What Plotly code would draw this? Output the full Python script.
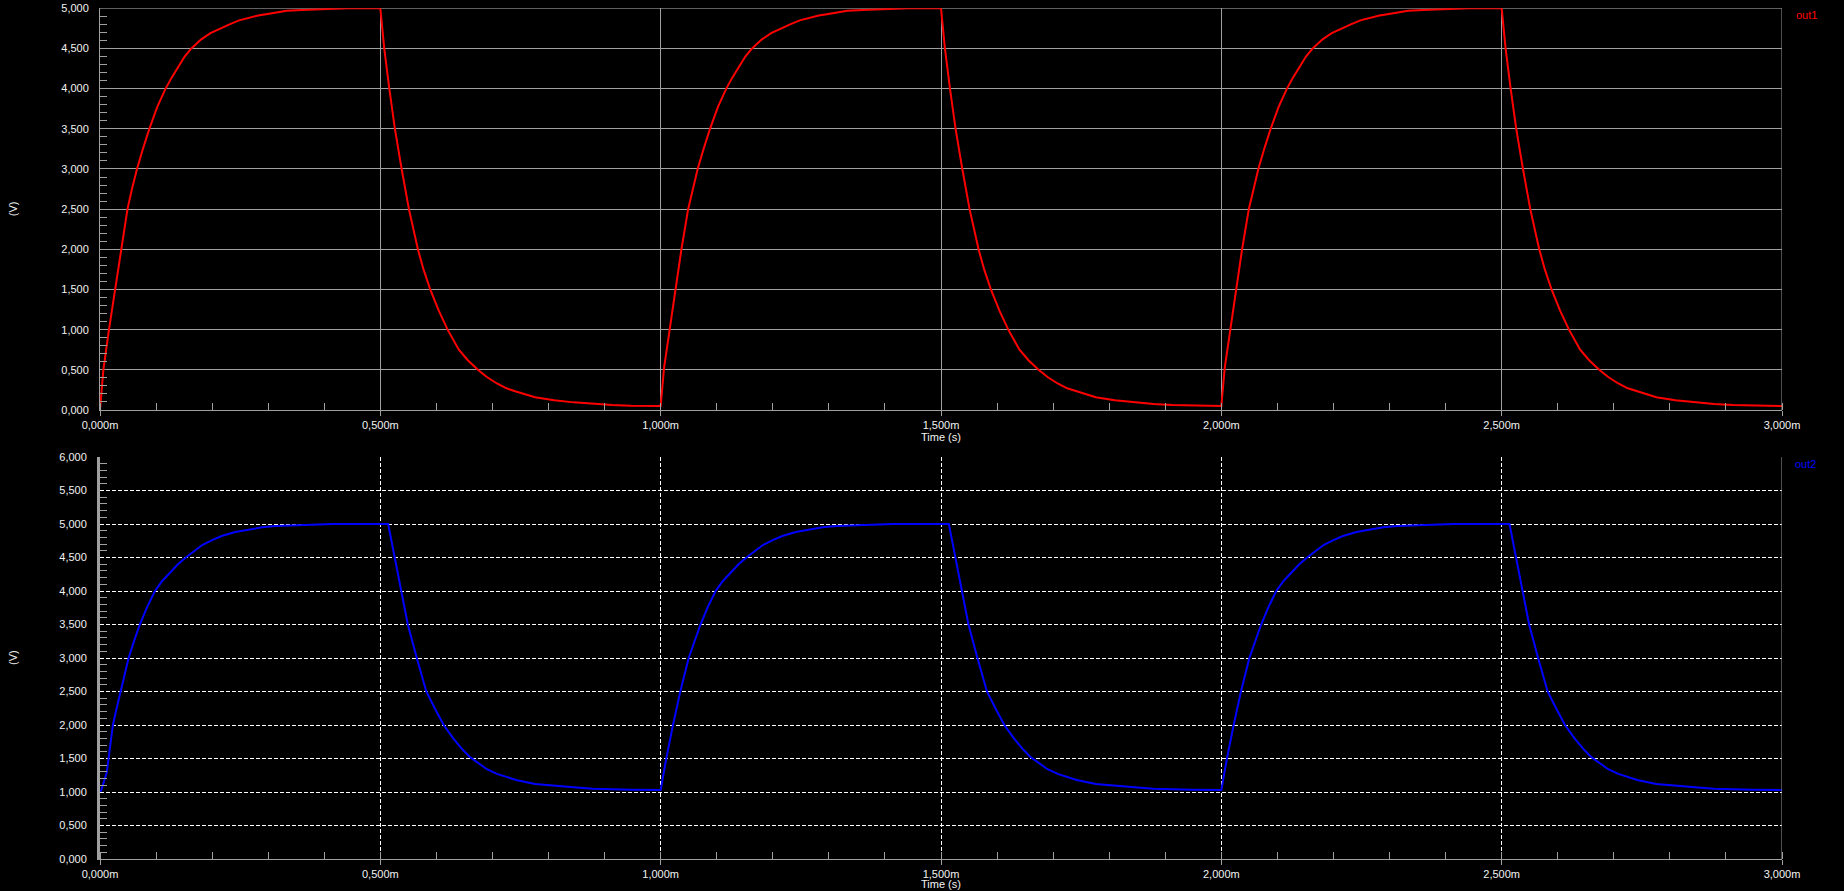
import plotly.graph_objects as go

# ---- data (time in ms, voltage in V) ----
out1_t = [
    0.000, 0.006, 0.016, 0.027, 0.037, 0.049, 0.057, 0.066, 0.077, 0.088, 0.102, 0.117,
    0.128, 0.140, 0.151, 0.163, 0.180, 0.197, 0.214, 0.231, 0.248, 0.265, 0.282, 0.299,
    0.333, 0.360, 0.395, 0.442, 0.500,
    0.507, 0.516, 0.526, 0.538, 0.551, 0.567, 0.577, 0.589, 0.604, 0.620, 0.630, 0.640,
    0.656, 0.674, 0.690, 0.708, 0.725, 0.742, 0.776, 0.810, 0.845, 0.879, 0.913, 0.947,
    1.000, 1.006, 1.016, 1.027, 1.037, 1.049, 1.057, 1.066, 1.077, 1.088, 1.102, 1.117,
    1.128, 1.140, 1.151, 1.163, 1.180, 1.197, 1.214, 1.231, 1.248, 1.265, 1.282, 1.299,
    1.333, 1.360, 1.395, 1.442, 1.500,
    1.507, 1.516, 1.526, 1.538, 1.551, 1.567, 1.577, 1.589, 1.604, 1.620, 1.630, 1.640,
    1.656, 1.674, 1.690, 1.708, 1.725, 1.742, 1.776, 1.810, 1.845, 1.879, 1.913, 1.947,
    2.000, 2.006, 2.016, 2.027, 2.037, 2.049, 2.057, 2.066, 2.077, 2.088, 2.102, 2.117,
    2.128, 2.140, 2.151, 2.163, 2.180, 2.197, 2.214, 2.231, 2.248, 2.265, 2.282, 2.299,
    2.333, 2.360, 2.395, 2.442, 2.500,
    2.507, 2.516, 2.526, 2.538, 2.551, 2.567, 2.577, 2.589, 2.604, 2.620, 2.630, 2.640,
    2.656, 2.674, 2.690, 2.708, 2.725, 2.742, 2.776, 2.810, 2.845, 2.879, 2.913, 2.947,
    3.000,
]
out1_v = [
    0.00, 0.50, 1.00, 1.50, 2.00, 2.50, 2.75, 3.00, 3.26, 3.50, 3.77, 4.00,
    4.14, 4.27, 4.40, 4.50, 4.61, 4.69, 4.75, 4.80, 4.85, 4.88, 4.91, 4.93,
    4.97, 4.98, 4.99, 5.00, 5.00,
    4.50, 4.00, 3.50, 3.00, 2.50, 2.00, 1.75, 1.50, 1.24, 1.00, 0.87, 0.75,
    0.62, 0.50, 0.41, 0.33, 0.27, 0.23, 0.16, 0.12, 0.095, 0.075, 0.062, 0.054,
    0.05, 0.52, 1.00, 1.50, 2.00, 2.50, 2.75, 3.00, 3.26, 3.50, 3.77, 4.00,
    4.14, 4.27, 4.40, 4.50, 4.61, 4.69, 4.75, 4.80, 4.85, 4.88, 4.91, 4.93,
    4.97, 4.98, 4.99, 5.00, 5.00,
    4.50, 4.00, 3.50, 3.00, 2.50, 2.00, 1.75, 1.50, 1.24, 1.00, 0.87, 0.75,
    0.62, 0.50, 0.41, 0.33, 0.27, 0.23, 0.16, 0.12, 0.095, 0.075, 0.062, 0.054,
    0.05, 0.52, 1.00, 1.50, 2.00, 2.50, 2.75, 3.00, 3.26, 3.50, 3.77, 4.00,
    4.14, 4.27, 4.40, 4.50, 4.61, 4.69, 4.75, 4.80, 4.85, 4.88, 4.91, 4.93,
    4.97, 4.98, 4.99, 5.00, 5.00,
    4.50, 4.00, 3.50, 3.00, 2.50, 2.00, 1.75, 1.50, 1.24, 1.00, 0.87, 0.75,
    0.62, 0.50, 0.41, 0.33, 0.27, 0.23, 0.16, 0.12, 0.095, 0.075, 0.062, 0.054,
    0.05,
]

out2_t = [
    0.000, 0.002, 0.012, 0.023, 0.030, 0.037, 0.044, 0.051, 0.061, 0.071, 0.084, 0.098,
    0.111, 0.125, 0.139, 0.153, 0.168, 0.183, 0.200, 0.217, 0.241, 0.265, 0.289, 0.313,
    0.361, 0.415, 0.514,
    0.526, 0.538, 0.549, 0.565, 0.582, 0.597, 0.613, 0.630, 0.647, 0.660, 0.674, 0.690,
    0.708, 0.725, 0.742, 0.776, 0.810, 0.845, 0.879, 0.913, 0.947,
    1.000, 1.010, 1.022, 1.035, 1.050, 1.061, 1.071, 1.084, 1.098,
    1.111, 1.125, 1.139, 1.153, 1.168, 1.183, 1.200, 1.217, 1.241, 1.265, 1.289, 1.313,
    1.361, 1.415, 1.514,
    1.526, 1.538, 1.549, 1.565, 1.582, 1.597, 1.613, 1.630, 1.647, 1.660, 1.674, 1.690,
    1.708, 1.725, 1.742, 1.776, 1.810, 1.845, 1.879, 1.913, 1.947,
    2.000, 2.010, 2.022, 2.035, 2.050, 2.061, 2.071, 2.084, 2.098,
    2.111, 2.125, 2.139, 2.153, 2.168, 2.183, 2.200, 2.217, 2.241, 2.265, 2.289, 2.313,
    2.361, 2.415, 2.514,
    2.526, 2.538, 2.549, 2.565, 2.582, 2.597, 2.613, 2.630, 2.647, 2.660, 2.674, 2.690,
    2.708, 2.725, 2.742, 2.776, 2.810, 2.845, 2.879, 2.913, 2.947,
    3.000,
]
out2_v = [
    1.01, 1.02, 1.29, 2.00, 2.26, 2.50, 2.76, 3.00, 3.26, 3.50, 3.76, 4.00,
    4.15, 4.28, 4.40, 4.50, 4.60, 4.69, 4.76, 4.82, 4.88, 4.92, 4.95, 4.97,
    4.985, 5.00, 5.00,
    4.50, 4.00, 3.50, 3.00, 2.50, 2.25, 2.00, 1.80, 1.63, 1.52, 1.43, 1.34,
    1.27, 1.22, 1.18, 1.12, 1.09, 1.07, 1.05, 1.04, 1.035,
    1.03, 1.50, 2.00, 2.50, 3.00, 3.26, 3.50, 3.76, 4.00,
    4.15, 4.28, 4.40, 4.50, 4.60, 4.69, 4.76, 4.82, 4.88, 4.92, 4.95, 4.97,
    4.985, 5.00, 5.00,
    4.50, 4.00, 3.50, 3.00, 2.50, 2.25, 2.00, 1.80, 1.63, 1.52, 1.43, 1.34,
    1.27, 1.22, 1.18, 1.12, 1.09, 1.07, 1.05, 1.04, 1.035,
    1.03, 1.50, 2.00, 2.50, 3.00, 3.26, 3.50, 3.76, 4.00,
    4.15, 4.28, 4.40, 4.50, 4.60, 4.69, 4.76, 4.82, 4.88, 4.92, 4.95, 4.97,
    4.985, 5.00, 5.00,
    4.50, 4.00, 3.50, 3.00, 2.50, 2.25, 2.00, 1.80, 1.63, 1.52, 1.43, 1.34,
    1.27, 1.22, 1.18, 1.12, 1.09, 1.07, 1.05, 1.04, 1.035,
    1.03,
]

series1_name = "out1"
series2_name = "out2"
x_title = "Time (s)"
y_title = "(V)"

# ---- styling ----
W, H = 1844, 891
GRAY = "#a0a0a0"
TXT = "#f2f2f2"
FONT = "Liberation Sans, Arial, sans-serif"

ML, MR, MT, MB = 100, 62, 8, 32
PW = W - ML - MR
PH = H - MT - MB

def px_x(p):
    # pixel x -> paper x (paper = plotting area inside margins)
    return (p - ML) / PW

def px_y(p):
    # pixel y (from top) -> paper y
    return (H - MB - p) / PH

T1, B1 = 8.3, 410.0
T2, B2 = 457.0, 859.0

fig = go.Figure()
fig.add_trace(go.Scatter(x=out1_t, y=out1_v, mode="lines", name=series1_name,
                         line=dict(color="#ff0000", width=2), xaxis="x", yaxis="y"))
fig.add_trace(go.Scatter(x=out2_t, y=out2_v, mode="lines", name=series2_name,
                         line=dict(color="#0000ff", width=2), xaxis="x2", yaxis="y2"))

common_x = dict(
    range=[0, 3], tick0=0, dtick=0.5, tickformat=".3f", ticksuffix="m",
    showline=True, linecolor=GRAY, linewidth=1,
    ticks="outside", ticklen=5, tickcolor=GRAY, tickwidth=1,
    tickfont=dict(family=FONT, size=11, color=TXT),
    zeroline=False, automargin=False,
    minor=dict(ticks="inside", dtick=0.1, tick0=0, ticklen=7, tickcolor=GRAY, tickwidth=1, showgrid=False),
    domain=[0, 1],
)
common_y = dict(
    dtick=0.5, tick0=0, tickformat=".3f",
    showline=True, linecolor=GRAY,
    ticks="", ticklabelstandoff=8,
    tickfont=dict(family=FONT, size=11, color=TXT),
    zeroline=False, automargin=False,
    minor=dict(ticks="inside", dtick=0.1, tick0=0, ticklen=7, tickcolor=GRAY, tickwidth=1, showgrid=False),
)

ann_font = dict(family=FONT, size=11, color=TXT)

fig.update_layout(
    width=W, height=H,
    paper_bgcolor="black", plot_bgcolor="black",
    margin=dict(l=ML, r=MR, t=MT, b=MB, autoexpand=False),
    separators=",.",
    showlegend=False,
    xaxis=dict(**common_x, anchor="y", gridcolor=GRAY, gridwidth=1),
    yaxis=dict(**common_y, range=[0, 5], anchor="x", linewidth=1,
               gridcolor=GRAY, gridwidth=1,
               domain=[px_y(B1), min(1.0, px_y(T1))]),
    xaxis2=dict(**common_x, anchor="y2", gridcolor="#ffffff", gridwidth=1, griddash="4px,2px"),
    yaxis2=dict(**common_y, range=[0, 6], anchor="x2", linewidth=3,
                gridcolor="#ffffff", gridwidth=1, griddash="4px,2px",
                domain=[max(0.0, px_y(B2)), px_y(T2)]),
    shapes=[
        dict(type="line", xref="x2", yref="y2", x0=3, x1=3, y0=0, y1=6,
             line=dict(color=GRAY, width=1), layer="above"),
        dict(type="line", xref="x", yref="y", x0=3, x1=3, y0=0, y1=5,
             line=dict(color=GRAY, width=1), layer="above"),
        dict(type="line", xref="x", yref="y", x0=0, x1=3, y0=5, y1=5,
             line=dict(color=GRAY, width=1), layer="below"),
    ],
    annotations=[
        dict(text=y_title, x=px_x(13), y=px_y((T1 + B1) / 2), xref="paper", yref="paper",
             textangle=-90, showarrow=False, font=ann_font,
             xanchor="center", yanchor="middle"),
        dict(text=y_title, x=px_x(13), y=px_y((T2 + B2) / 2), xref="paper", yref="paper",
             textangle=-90, showarrow=False, font=ann_font,
             xanchor="center", yanchor="middle"),
        dict(text=x_title, x=0.5, y=px_y(437), xref="paper", yref="paper",
             showarrow=False, font=ann_font, xanchor="center", yanchor="middle"),
        dict(text=x_title, x=0.5, y=px_y(884), xref="paper", yref="paper",
             showarrow=False, font=ann_font, xanchor="center", yanchor="middle"),
        dict(text=series1_name, x=px_x(1794), y=px_y(15), xref="paper", yref="paper",
             showarrow=False, font=dict(family=FONT, size=11, color="#ff0000"),
             xanchor="left", yanchor="middle"),
        dict(text=series2_name, x=px_x(1793), y=px_y(464), xref="paper", yref="paper",
             showarrow=False, font=dict(family=FONT, size=11, color="#0000ff"),
             xanchor="left", yanchor="middle"),
    ],
)

fig.write_html("out.html", config={"displayModeBar": False},
               post_script="document.body.style.margin='0';")
